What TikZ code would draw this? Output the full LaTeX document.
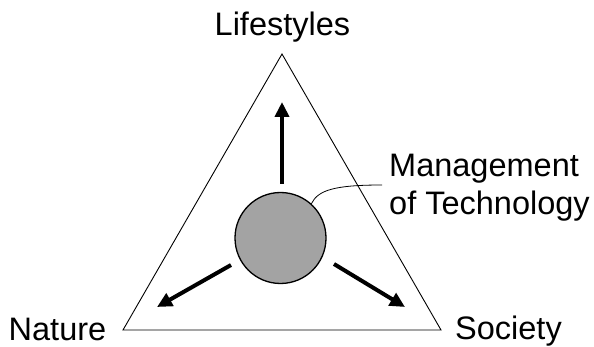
\documentclass[tikz,border=0pt]{standalone}
\usepackage{fontspec}
\setmainfont{Liberation Sans}
\usetikzlibrary{arrows.meta}
\begin{document}
\begin{tikzpicture}[x=1pt,y=-1pt,
  lbl/.style={anchor=base west,inner sep=0pt,font=\fontsize{32.5}{39}\selectfont},
  tri/.style={draw=black,line width=0.9pt,line join=miter},
  bigarrow/.style={line width=4pt,-{Triangle[length=15pt,width=14pt]}},
  hub/.style={circle,draw=black,line width=1.3pt,fill=black!36,minimum size=91pt,inner sep=0pt}]
\useasboundingbox (0,0) rectangle (594,347);
\coordinate (apex) at (282,54);
\coordinate (bl) at (123,330);
\coordinate (br) at (441,330);
\draw[tri] (apex) -- (br) -- (bl) -- cycle;
\node[hub] (c) at (280.5,238) {};
\coordinate (us) at (282,184);
\coordinate (ut) at (282,102);
\coordinate (ls) at (231,265);
\coordinate (lt) at (157,307);
\coordinate (rs) at (334,264);
\coordinate (rt) at (405,307);
\draw[bigarrow] (us) -- (ut);
\draw[bigarrow] (ls) -- (lt);
\draw[bigarrow] (rs) -- (rt);
\node[lbl] (life) at (214.5,36) {Lifestyles};
\node[lbl] (nat) at (8.5,340) {Nature};
\node[lbl] (soc) at (455,339) {Society};
\node[lbl] (mgmt) at (389,177) {Management};
\node[lbl] (tech) at (389,215) {of Technology};
\coordinate (lead) at (382,185);
\draw[line width=0.8pt] (c.48) .. controls (318,190) and (335,185) .. (lead);
\end{tikzpicture}
\end{document}
